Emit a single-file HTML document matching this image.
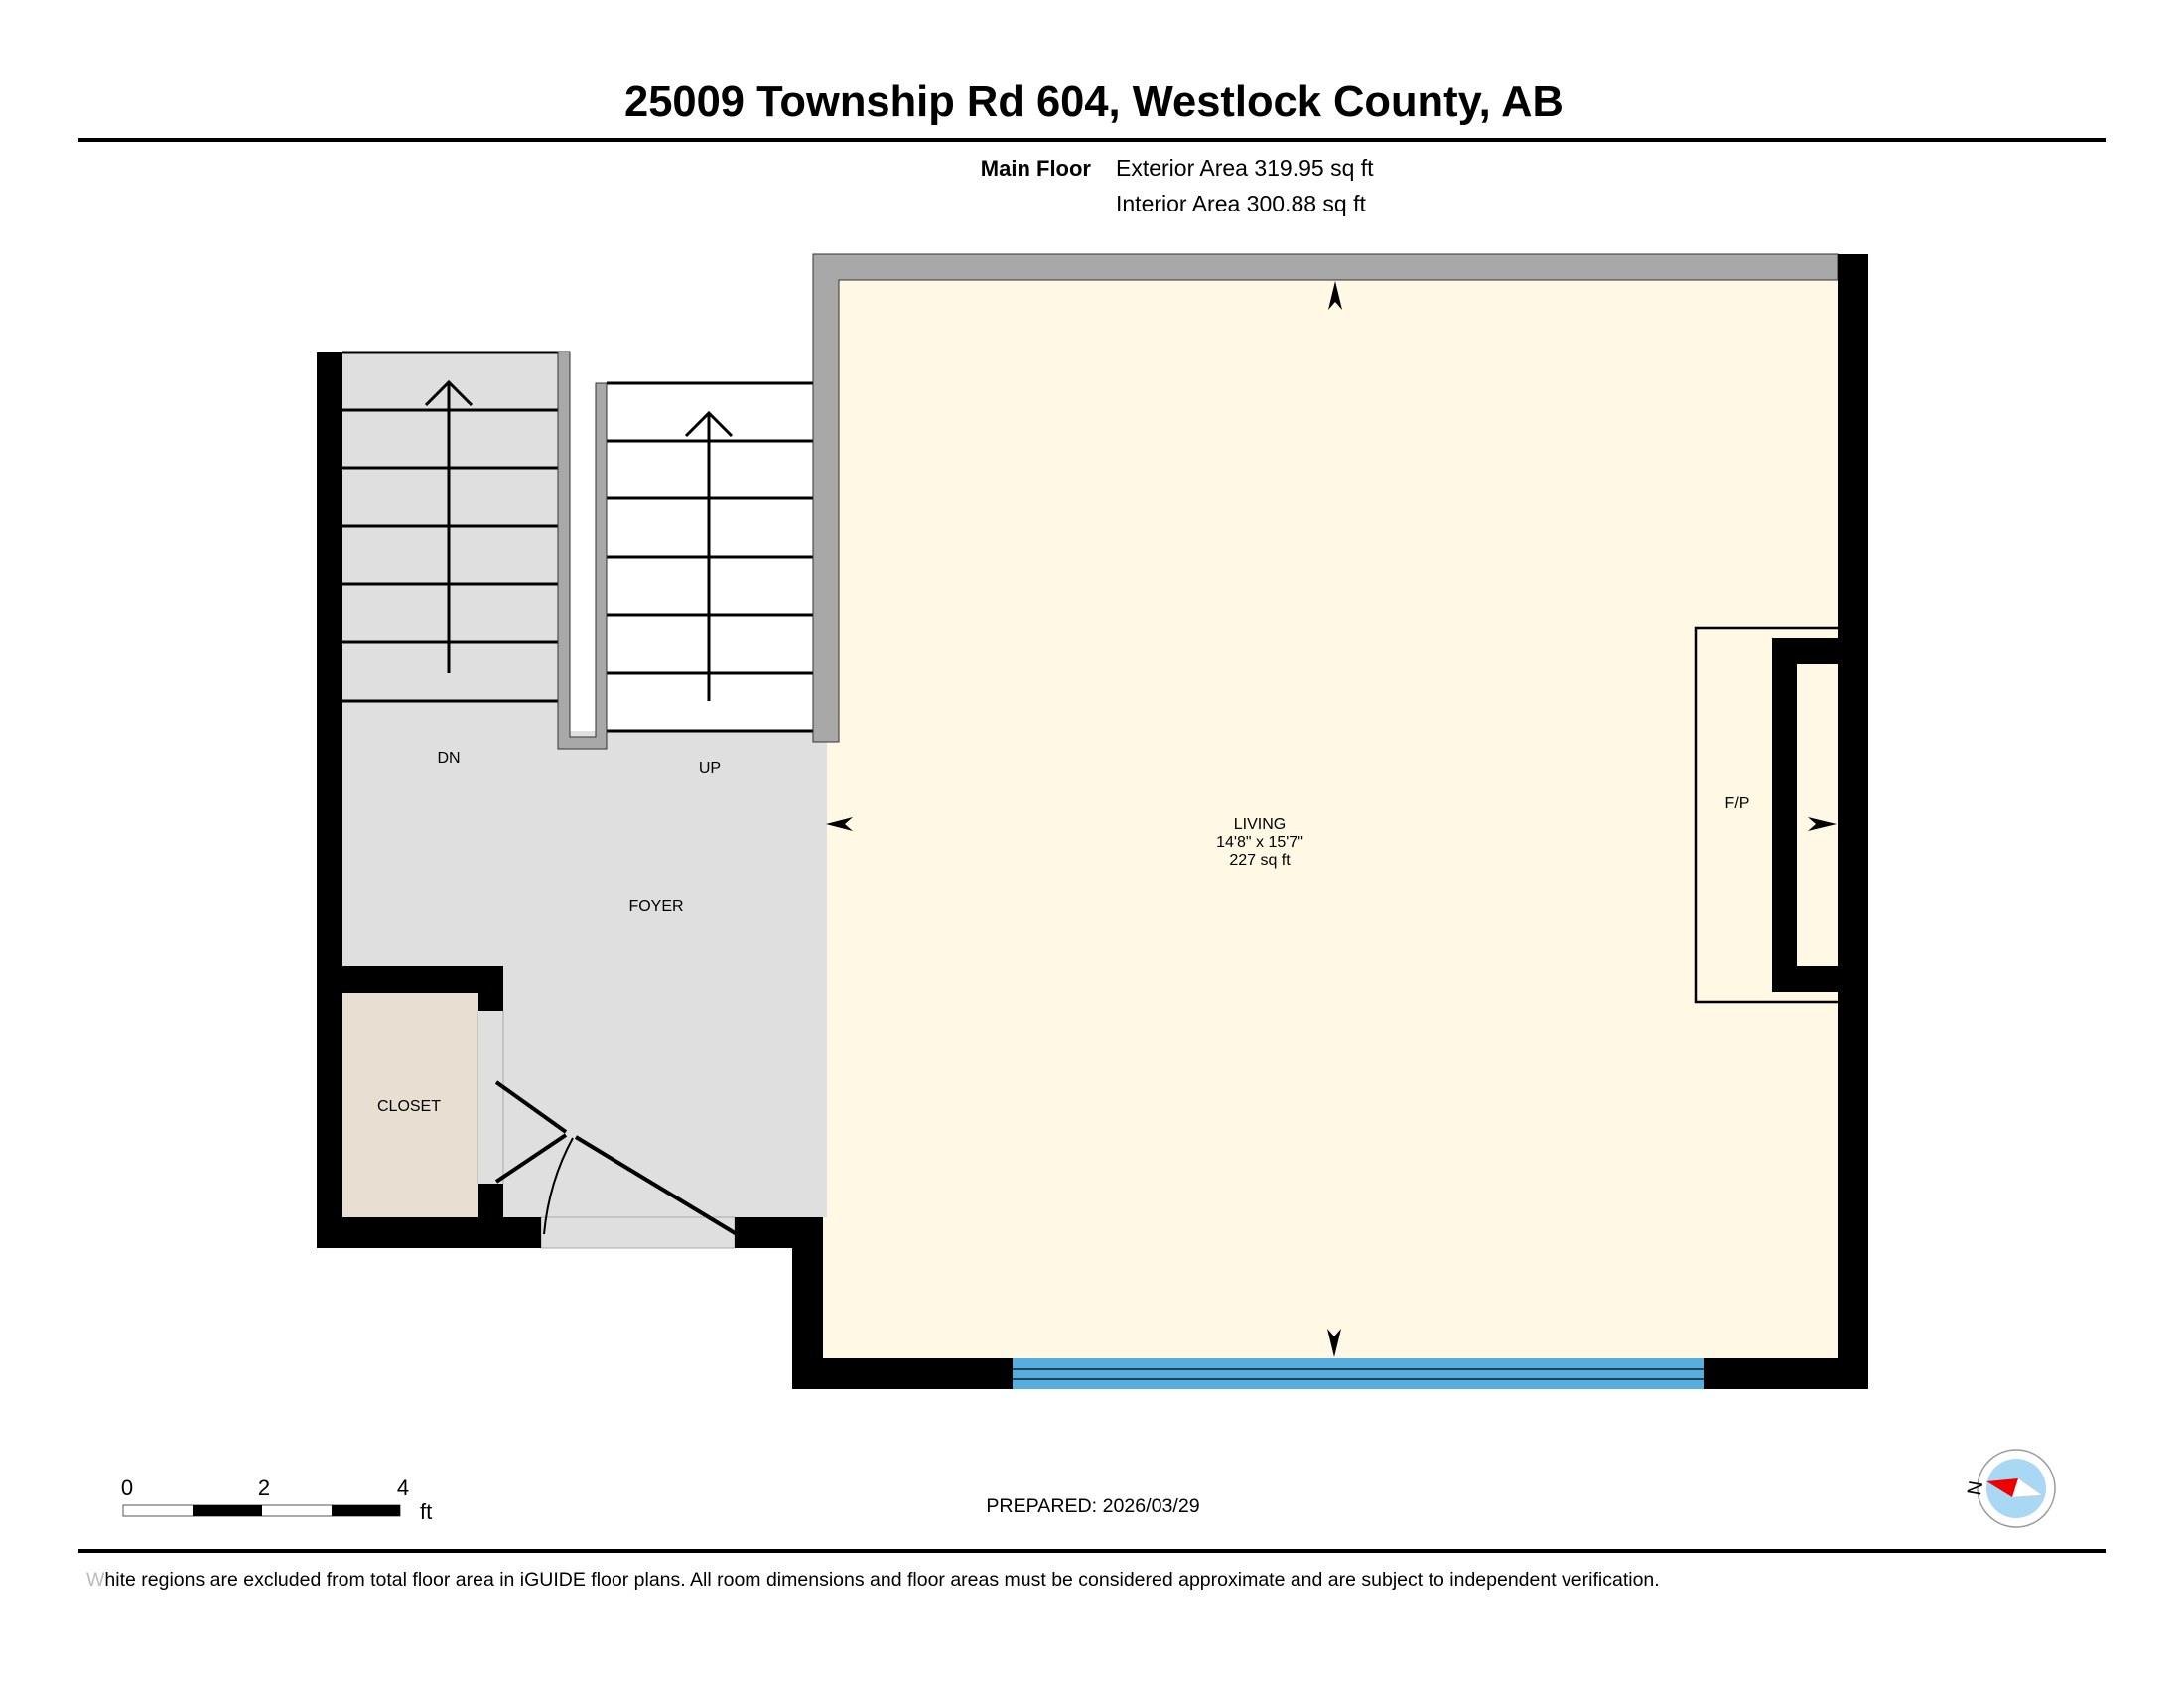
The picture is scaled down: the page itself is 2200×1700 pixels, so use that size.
<!DOCTYPE html>
<html><head><meta charset="utf-8"><style>
html,body{margin:0;padding:0;background:#fff}
svg{display:block}
text{font-family:"Liberation Sans",sans-serif}
</style></head><body>
<svg width="2200" height="1700" viewBox="0 0 2200 1700" xmlns="http://www.w3.org/2000/svg">
<rect width="2200" height="1700" fill="#fff"/>
<text x="1102" y="117" font-size="43.5" font-weight="bold" text-anchor="middle">25009 Township Rd 604, Westlock County, AB</text>
<rect x="79" y="139" width="2042" height="4" fill="#000"/>
<text x="1099" y="177" font-size="22" font-weight="bold" text-anchor="end">Main Floor</text>
<text x="1124" y="177" font-size="23">Exterior Area 319.95 sq ft</text>
<text x="1124" y="213" font-size="23">Interior Area 300.88 sq ft</text>

<!-- fills -->
<rect x="345" y="355" width="490" height="871" fill="#dfdfdf"/>
<rect x="562" y="336" width="257" height="400" fill="#fff"/>
<rect x="829" y="282" width="1022" height="1086" fill="#fef8e4"/>
<rect x="829" y="747" width="4" height="479" fill="#dfdfdf"/>
<rect x="345" y="1000" width="136" height="226" fill="#e8dfd2"/>
<rect x="545" y="1226" width="195" height="31" fill="#dfdfdf" stroke="#aaa" stroke-width="1"/>
<line x1="481" y1="1018" x2="481" y2="1192" stroke="#aaa" stroke-width="1"/>
<line x1="507" y1="1018" x2="507" y2="1192" stroke="#aaa" stroke-width="1"/>

<!-- stairs -->
<g stroke="#000" stroke-width="3" fill="none">
<line x1="345" y1="355" x2="562" y2="355"/>
<line x1="345" y1="413" x2="562" y2="413"/>
<line x1="345" y1="471" x2="562" y2="471"/>
<line x1="345" y1="530" x2="562" y2="530"/>
<line x1="345" y1="588" x2="562" y2="588"/>
<line x1="345" y1="647" x2="562" y2="647"/>
<line x1="345" y1="706" x2="562" y2="706"/>
<line x1="452" y1="385" x2="452" y2="678"/>
<polyline points="429,408 452,385 475,408"/>
<line x1="611" y1="386" x2="819" y2="386"/>
<line x1="611" y1="444" x2="819" y2="444"/>
<line x1="611" y1="502" x2="819" y2="502"/>
<line x1="611" y1="561" x2="819" y2="561"/>
<line x1="611" y1="619" x2="819" y2="619"/>
<line x1="611" y1="678" x2="819" y2="678"/>
<line x1="611" y1="736" x2="819" y2="736"/>
<line x1="714" y1="416" x2="714" y2="706"/>
<polyline points="691,439 714,416 737,439"/>
</g>

<!-- gray walls -->
<g fill="#a8a8a8" stroke="#333" stroke-width="1">
<path d="M562,354 H574 V742 H600 V386 H611 V754 H562 Z"/>
<path d="M819,256 H1851 V282 H845 V747 H819 Z"/>
</g>

<!-- black walls -->
<g fill="#000">
<rect x="319" y="355" width="26" height="902"/>
<rect x="319" y="973" width="188" height="27"/>
<rect x="481" y="973" width="26" height="45"/>
<rect x="481" y="1192" width="26" height="34"/>
<rect x="319" y="1226" width="226" height="31"/>
<rect x="740" y="1226" width="89" height="31"/>
<rect x="798" y="1226" width="31" height="173"/>
<rect x="798" y="1368" width="1084" height="31"/>
<rect x="1851" y="256" width="31" height="1143"/>
<path d="M1785,643 H1851 V669 H1810 V973 H1851 V999 H1785 Z"/>
</g>
<!-- window -->
<rect x="1020" y="1368" width="696" height="31" fill="#55aedd"/>
<line x1="1020" y1="1379" x2="1716" y2="1379" stroke="#123" stroke-width="1.5"/>
<line x1="1020" y1="1389" x2="1716" y2="1389" stroke="#123" stroke-width="1.5"/>
<!-- fireplace outline -->
<polyline points="1851,632 1708,632 1708,1009 1851,1009" fill="none" stroke="#000" stroke-width="2.5"/>

<!-- doors -->
<g stroke="#000" stroke-width="4" fill="none">
<line x1="500" y1="1090" x2="570" y2="1140"/>
<line x1="500" y1="1190" x2="570" y2="1143"/>
<line x1="580" y1="1145" x2="742" y2="1243"/>
</g>
<path d="M577,1146 Q553,1190 548,1243" fill="none" stroke="#000" stroke-width="2"/>

<!-- arrows -->
<g fill="#000">
<path d="M1345,283 L1352,312 L1345,304 L1338,312 Z"/>
<path d="M1344,1367 L1337,1338 L1344,1346 L1351,1338 Z"/>
<path d="M832,830 L859,823 L851,830 L859,837 Z"/>
<path d="M1850,830 L1821,823 L1829,830 L1821,837 Z"/>
</g>

<!-- labels -->
<g font-size="16" text-anchor="middle">
<text x="452" y="768">DN</text>
<text x="715" y="778">UP</text>
<text x="661" y="917">FOYER</text>
<text x="412" y="1119">CLOSET</text>
<text x="1750" y="814">F/P</text>
<text x="1269" y="835">LIVING</text>
<text x="1269" y="853">14'8" x 15'7"</text>
<text x="1269" y="871">227 sq ft</text>
</g>

<!-- scale -->
<rect x="124" y="1516" width="279" height="11" fill="#fff" stroke="#555" stroke-width="1"/>
<rect x="194" y="1516" width="70" height="11" fill="#000"/>
<rect x="334" y="1516" width="69" height="11" fill="#000"/>
<g font-size="22" text-anchor="middle">
<text x="128" y="1506">0</text><text x="266" y="1506">2</text><text x="406" y="1506">4</text>
</g>
<text x="423" y="1530" font-size="22">ft</text>
<text x="1101" y="1523" font-size="19.6" text-anchor="middle">PREPARED: 2026/03/29</text>

<!-- compass -->
<circle cx="2031" cy="1499" r="39" fill="#fff" stroke="#999" stroke-width="1.5"/>
<circle cx="2031" cy="1499" r="30" fill="#a9d8f5"/>
<path d="M2001,1492 L2033,1489 L2057,1506 L2027,1508 Z" fill="#e00"/>
<path d="M2033,1489 L2057,1506 L2027,1508 Z" fill="#fff"/>
<text x="1996" y="1500" font-size="20" text-anchor="middle" transform="rotate(-80 1996 1500)">N</text>

<rect x="79" y="1560" width="2042" height="4" fill="#000"/>
<text x="87" y="1597" font-size="19.5"><tspan fill="#bbb">W</tspan>hite regions are excluded from total floor area in iGUIDE floor plans. All room dimensions and floor areas must be considered approximate and are subject to independent verification.</text>
</svg>
</body></html>
